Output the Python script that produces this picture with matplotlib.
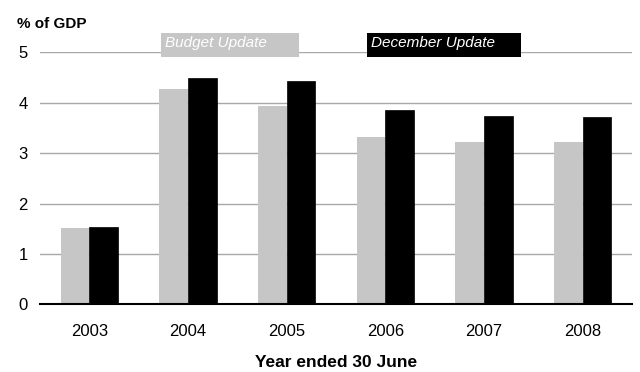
import matplotlib
matplotlib.use("Agg")
import matplotlib.pyplot as plt
from matplotlib.patches import Rectangle
import numpy as np

plt.rcParams['font.family'] = ['Liberation Sans', 'DejaVu Sans']

years = ["2003", "2004", "2005", "2006", "2007", "2008"]
budget_update = [1.52, 4.27, 3.93, 3.31, 3.22, 3.22]
december_update = [1.54, 4.49, 4.44, 3.85, 3.74, 3.72]
series_names = ["Budget Update", "December Update"]
grey = "#c6c6c6"

W, H = 640, 372
fig = plt.figure(figsize=(W / 100, H / 100), dpi=100)
ax = fig.add_axes([40 / W, (H - 304.3) / H, 592 / W, 252 / H])

x = np.arange(len(years))
w = 0.29
ax.bar(x - w / 2, budget_update, w, color=grey, edgecolor="none", zorder=3)
ax.bar(x + w / 2, december_update, w, color="black", edgecolor="black", linewidth=0.5, zorder=3)

ax.set_xlim(-0.5, 5.5)
ax.set_ylim(0, 5)
ax.set_yticks(range(6))
ax.yaxis.grid(True, color="#a8a8a8", linewidth=1, zorder=0)
for s in ["top", "right", "left"]:
    ax.spines[s].set_visible(False)
ax.spines["bottom"].set_linewidth(1.5)
ax.spines["bottom"].set_zorder(4)
ax.tick_params(axis="both", length=0, labelsize=12)
ax.tick_params(axis="y", pad=9)
ax.tick_params(axis="x", pad=14)
ax.set_xticks(x)
ax.set_xticklabels(years)

fig.text(336 / W, (H - 367) / H, "Year ended 30 June", fontsize=12.5, fontweight="bold",
         ha="center", va="baseline")
fig.text(17 / W, (H - 28) / H, "% of GDP", fontsize=11, fontweight="bold", ha="left", va="baseline")

# legend boxes above the plot
boxes = [(161, 299, grey), (367, 521, "black")]
for name, (x0, x1, fc) in zip(series_names, boxes):
    fig.patches.append(Rectangle((x0 / W, (H - 57) / H), (x1 - x0) / W, 24 / H,
                                 transform=fig.transFigure, facecolor=fc, edgecolor="none"))
    fig.text((x0 + 4) / W, (H - 47.5) / H, name, fontsize=11, style="italic", color="white",
             ha="left", va="baseline")

fig.savefig("out.png", dpi=100)
